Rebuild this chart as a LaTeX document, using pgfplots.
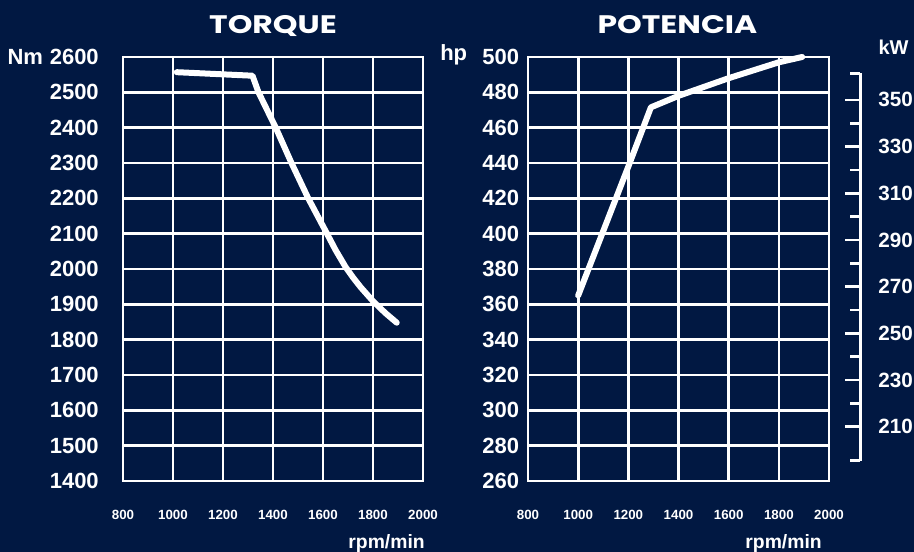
\documentclass[border=0pt]{standalone}
\usepackage{fontspec}
\setmainfont{Liberation Sans}
\newfontfamily\titlefont{Poppins}
\usepackage{pgfplots}
\pgfplotsset{compat=1.18}
\definecolor{bg}{HTML}{011842}

\pgfplotstableread{
rpm nm
1015 2557
1318 2547
1342 2500
1411 2400
1474 2300
1541 2200
1616 2100
1650 2054
1690 2006
1720 1976
1750 1949
1800 1909
1850 1875
1895 1848
}\torque

\pgfplotstableread{
rpm hp
1000 365
1200 438
1290 471.5
1400 478
1600 488
1800 497
1893 500
}\power

\pgfplotsset{
  mygrid/.style={
    scale only axis, width=225pt, height=318pt,
    xmin=800, xmax=2000,
    xtick={800,1000,...,2000},
    grid=major,
    major grid style={white, line width=2pt},
    axis line style={white, line width=2pt},
    major tick length=0pt, tick style={draw=none},
    /pgf/number format/assume math mode=true,
    /pgf/number format/1000 sep={},
    xticklabel style={font=\bfseries\fontsize{10}{12}\selectfont, text=white, anchor=north, inner sep=0pt, yshift=-22pt},
    clip=false,
  },
  curve/.style={white, line width=4.5pt, line cap=round, line join=round},
}

\begin{document}
\begin{tikzpicture}
\path[use as bounding box, fill=bg] (0,0) rectangle (685.5pt,414pt);

% TORQUE
\begin{axis}[mygrid,
  at={(92.25pt,53.25pt)}, anchor=south west,
  ymin=1400, ymax=2600, ytick={1400,1500,...,2600},
  yticklabel style={font=\bfseries\fontsize{16.5}{18}\selectfont, text=white, anchor=east, inner sep=0pt, xshift=-18pt},
]
\addplot[curve] table[x=rpm, y=nm] {\torque};
\end{axis}

% POTENCIA
\begin{axis}[mygrid,
  at={(396pt,53.25pt)}, anchor=south west, width=225.75pt,
  ymin=260, ymax=500, ytick={260,280,...,500},
  yticklabel style={font=\bfseries\fontsize{16.5}{18}\selectfont, text=white, anchor=east, inner sep=0pt, xshift=-6.5pt},
]
\addplot[curve] table[x=rpm, y=hp] {\power};
\end{axis}

% kW axis
\begin{axis}[
  at={(645pt,68.475pt)}, anchor=south east,
  scale only axis, width=1pt, height=290.55pt,
  xmin=0, xmax=1, ymin=195.4, ymax=361.4,
  axis x line=none, axis y line=right,
  axis line style={white, line width=2.25pt, -},
  ytick={210,230,...,350},
  minor ytick={195.4,220,240,...,340,361.4},
  tick align=inside,
  major tick length=11.25pt, minor tick length=7.5pt,
  tick style={white, line width=2pt},
  yticklabel pos=right,
  yticklabel shift=13.5pt,
  yticklabel={\pgfmathprintnumber{\tick}},
  yticklabel style={font=\bfseries\fontsize{15.5}{17}\selectfont, text=white, anchor=west, inner sep=0pt},
  /pgf/number format/assume math mode=true,
  /pgf/number format/1000 sep={},
]
\end{axis}

% texts
\node[anchor=base, inner sep=0pt, text=white, xscale=1.24, font=\titlefont\bfseries\fontsize{19}{21}\selectfont] at (204.75pt,388.5pt) {TORQUE};
\node[anchor=base, inner sep=0pt, text=white, xscale=1.24, font=\titlefont\bfseries\fontsize{19}{21}\selectfont] at (508.1pt,388.5pt) {POTENCIA};
\node[anchor=base west, inner sep=0pt, text=white, font=\bfseries\fontsize{16.5}{18}\selectfont] at (5.5pt,365.25pt) {Nm};
\node[anchor=base west, inner sep=0pt, text=white, font=\bfseries\fontsize{16.5}{18}\selectfont] at (330pt,368.25pt) {hp};
\node[anchor=base west, inner sep=0pt, text=white, font=\bfseries\fontsize{15}{17}\selectfont] at (658.75pt,372.75pt) {kW};
\node[anchor=base east, inner sep=0pt, text=white, font=\bfseries\fontsize{14.5}{16}\selectfont] at (318.75pt,2.6pt) {rpm/min};
\node[anchor=base east, inner sep=0pt, text=white, font=\bfseries\fontsize{14.5}{16}\selectfont] at (616.5pt,2.6pt) {rpm/min};
\end{tikzpicture}
\end{document}
